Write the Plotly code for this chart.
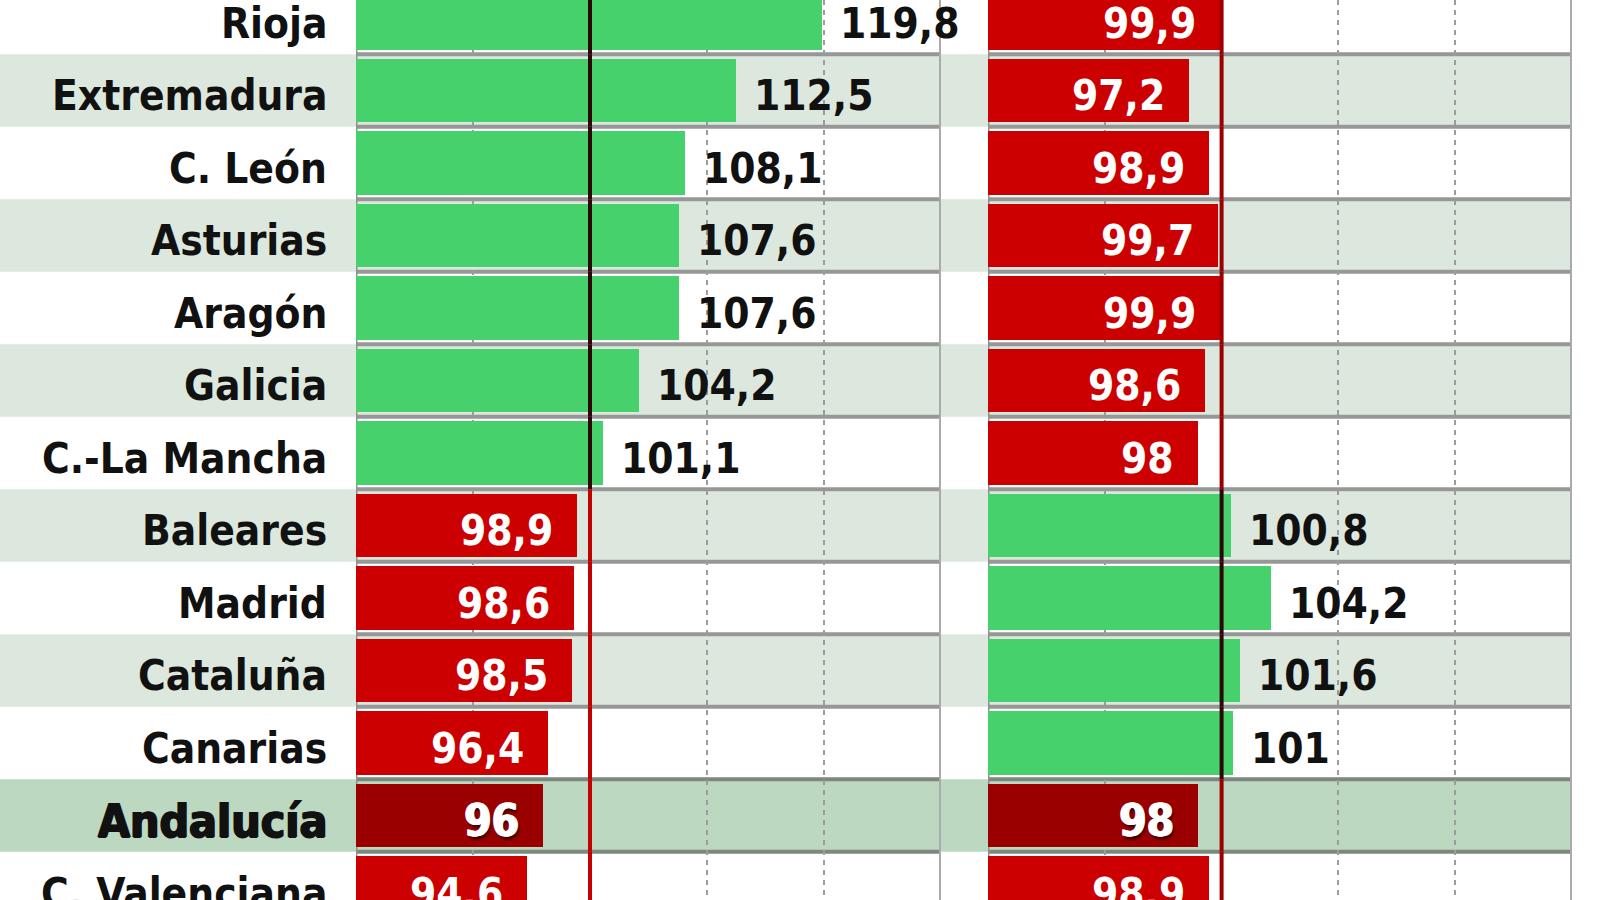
import plotly.graph_objects as go

# Regions (top to bottom) and their index values for the two periods
regions = ["Rioja", "Extremadura", "C. León", "Asturias", "Aragón", "Galicia",
           "C.-La Mancha", "Baleares", "Madrid", "Cataluña", "Canarias",
           "Andalucía", "C. Valenciana"]
left_values = [119.8, 112.5, 108.1, 107.6, 107.6, 104.2, 101.1,
               98.9, 98.6, 98.5, 96.4, 96.0, 94.6]
right_values = [99.9, 97.2, 98.9, 99.7, 99.9, 98.6, 98.0,
                100.8, 104.2, 101.6, 101.0, 98.0, 98.9]
highlight = "Andalucía"
baseline = 100
axis_range = [80, 130]
grid_ticks = [90, 100, 110, 120]

FONT = "DejaVu Sans Condensed, DejaVu Sans, sans-serif"
GREEN = "#47d16c"
RED = "#cc0000"
DARK_RED = "#9b0000"
ROW_SHADE = "#dce8dd"
ROW_HIGHLIGHT = "#bdd8c1"
SEP = "#979797"
INK = "#111111"

W, H = 1600, 900
left_dom = [356 / W, 941 / W]
right_dom = [988 / W, 1572 / W]

ypos = list(range(len(regions)))
row_px = 72.5
top_center_px = 18
y_top = -top_center_px / row_px
y_bottom = y_top + H / row_px

HEAVY_DARK = "1px 0 0 #111111, -1px 0 0 #111111, 0 0.7px 0 #111111"
HEAVY_WHITE = ("1px 0 0 #ffffff, -0.7px 0 0 #ffffff, "
               "2px 3px 3px rgba(0,0,0,0.6)")


def fmt(v):
    return f"{v:g}".replace(".", ",")


def bar_colors(values):
    cols = []
    for name, v in zip(regions, values):
        if v >= baseline:
            cols.append(GREEN)
        elif name == highlight:
            cols.append(DARK_RED)
        else:
            cols.append(RED)
    return cols


fig = go.Figure()
for values, xa in ((left_values, "x"), (right_values, "x2")):
    fig.add_trace(go.Bar(
        x=values, y=ypos, orientation="h", xaxis=xa, yaxis="y",
        marker=dict(color=bar_colors(values), line=dict(width=0)),
        width=0.88, hoverinfo="skip", showlegend=False,
    ))

shapes = []
# alternating row shading across both panels
for i, name in enumerate(regions):
    if name == highlight:
        fill = ROW_HIGHLIGHT
    elif i % 2 == 1:
        fill = ROW_SHADE
    else:
        continue
    shapes.append(dict(type="rect", xref="paper", yref="y", x0=0, x1=right_dom[1],
                       y0=i - 0.5, y1=i + 0.5, fillcolor=fill, line=dict(width=0),
                       layer="below"))

for xa in ("x", "x2"):
    # row separators
    for i in range(len(regions) + 1):
        near_hl = (i - 1 >= 0 and regions[i - 1] == highlight) or \
                  (i < len(regions) and regions[i] == highlight)
        shapes.append(dict(type="line", xref=f"{xa} domain", yref="y", x0=0, x1=1,
                           y0=i - 0.5, y1=i - 0.5,
                           line=dict(color="#7d877e" if near_hl else SEP, width=4),
                           layer="below"))
    # panel frame
    shapes.append(dict(type="line", xref=xa, yref="paper", x0=axis_range[1], x1=axis_range[1],
                       y0=0, y1=1, line=dict(color="#aaaaaa", width=4), layer="below"))
    shapes.append(dict(type="line", xref=xa, yref="paper", x0=axis_range[0], x1=axis_range[0],
                       y0=0, y1=1, line=dict(color="#8f8f8f", width=3), layer="below"))

# reference line at 100, drawn per row so it darkens over green bars
for values, xa, open_col in ((left_values, "x", "#c20000"), (right_values, "x2", "#9a0000")):
    for i, v in enumerate(values):
        col = "#2b0806" if v > baseline else open_col
        shapes.append(dict(type="line", xref=xa, yref="y", x0=baseline, x1=baseline,
                           y0=i - 0.5, y1=i + 0.5, line=dict(color=col, width=4),
                           layer="above"))

annotations = []
for i, name in enumerate(regions):
    hl = name == highlight
    font = dict(family=FONT, size=46 if hl else 42, color=INK, weight=700)
    if hl:
        font["shadow"] = HEAVY_DARK
    annotations.append(dict(
        xref="x domain", yref="y", x=0, y=i, xanchor="right", yanchor="middle",
        xshift=-27, yshift=-5, text=name, showarrow=False, font=font,
    ))
    for values, xa in ((left_values, "x"), (right_values, "x2")):
        v = values[i]
        above = v >= baseline
        font = dict(family=FONT, size=42, weight=700,
                    color=INK if above else "#ffffff")
        if hl:
            font["size"] = 44
            font["shadow"] = HEAVY_WHITE
        annotations.append(dict(
            xref=xa, yref="y", x=v, y=i,
            xanchor="left" if above else "right", yanchor="middle",
            xshift=16 if above else -22, yshift=-5,
            text=fmt(v), showarrow=False, font=font,
        ))

axis_common = dict(range=axis_range, tickvals=grid_ticks, showticklabels=False,
                   showgrid=True, gridcolor="#9c9c9c", gridwidth=2, griddash="5px,5px",
                   zeroline=False, showline=False, ticks="", fixedrange=True)

fig.update_layout(
    width=W, height=H,
    margin=dict(l=0, r=0, t=0, b=0, pad=0),
    paper_bgcolor="white", plot_bgcolor="rgba(0,0,0,0)",
    xaxis=dict(domain=left_dom, anchor="y", **axis_common),
    xaxis2=dict(domain=right_dom, anchor="y", **axis_common),
    yaxis=dict(domain=[0, 1], range=[y_bottom, y_top], showticklabels=False,
               showgrid=False, zeroline=False, showline=False, ticks="", fixedrange=True),
    shapes=shapes, annotations=annotations,
    barmode="overlay", bargap=0,
    font=dict(family=FONT),
)

fig.write_html("out.html")
